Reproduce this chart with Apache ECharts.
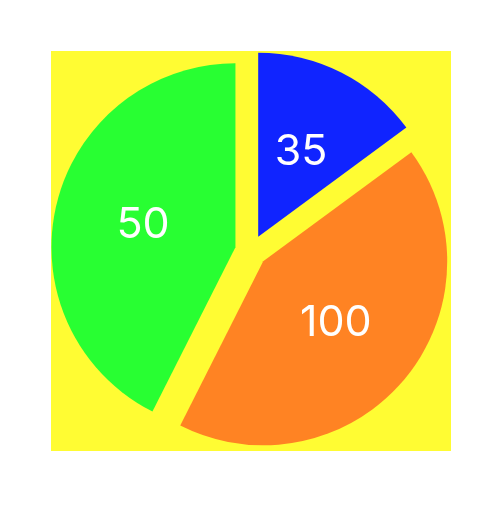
<!DOCTYPE html>
<html><head><meta charset="utf-8">
<script src="https://cdn.jsdelivr.net/npm/echarts@6/dist/echarts.min.js"></script>
<style>html,body{margin:0;padding:0;background:#fff;} #c{position:absolute;left:51px;top:51px;width:400px;height:400px;}</style>
</head><body><div id="c"></div>
<script>
const categories = ['Blue', 'Orange', 'Green'];
const sliceValues = [35, 100, 100];
const labelTexts = ['35', '100', '50'];
const colors = ['#1024ff', '#ff8323', '#28ff32'];

const chart = echarts.init(document.getElementById('c'), null, {renderer: 'canvas'});
chart.setOption({
  backgroundColor: '#fffc33',
  animation: false,
  series: [{
    type: 'pie',
    center: ['50%', '50%'],
    radius: 184,
    startAngle: 90,
    clockwise: true,
    selectedMode: 'multiple',
    selectedOffset: 16,
    emphasis: {disabled: true},
    label: {
      show: true,
      position: 'inside',
      color: '#ffffff',
      fontSize: 43,
      fontFamily: 'Inter',
      fontWeight: 'normal',
      padding: [7, 0, 0, 0],
      formatter: p => labelTexts[p.dataIndex]
    },
    labelLine: {show: false},
    data: categories.map((c, i) => ({
      name: c,
      value: sliceValues[i],
      selected: true,
      itemStyle: {color: colors[i]}
    }))
  }]
});
</script></body></html>
